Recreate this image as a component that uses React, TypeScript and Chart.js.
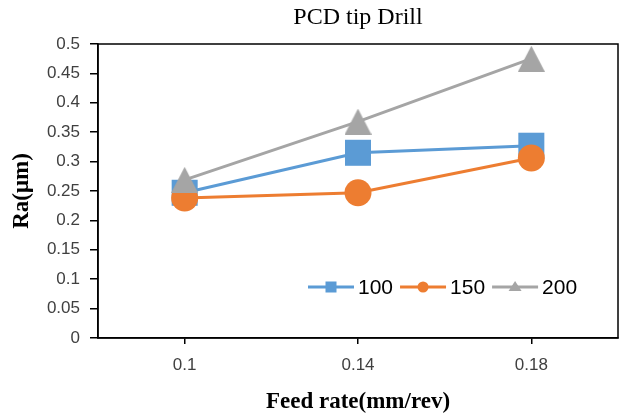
import React, { useEffect, useRef } from 'react';
import { Chart, registerables } from 'chart.js';

Chart.register(...registerables);

const categories = ['0.1', '0.14', '0.18'];
const seriesNames = ['100', '150', '200'];
const ra100 = [0.247, 0.315, 0.327];
const ra150 = [0.238, 0.247, 0.306];
const ra200 = [0.269, 0.368, 0.475];
const yMin = 0;
const yMax = 0.5;
const yStep = 0.05;
const titleText = 'PCD tip Drill';
const xTitle = 'Feed rate(mm/rev)';
const yTitle = 'Ra(μm)';

const BLUE = '#5B9BD5';
const ORANGE = '#ED7D31';
const GRAY = '#A5A5A5';

function makeTriangle(w: number, h: number, color: string) {
  const c = document.createElement('canvas');
  c.width = w;
  c.height = h;
  const ctx = c.getContext('2d')!;
  ctx.fillStyle = color;
  ctx.beginPath();
  ctx.moveTo(w / 2, 0);
  ctx.lineTo(w, h);
  ctx.lineTo(0, h);
  ctx.closePath();
  ctx.fill();
  return c;
}

export default function App() {
  const ref = useRef<HTMLCanvasElement | null>(null);

  useEffect(() => {
    document.body.style.margin = '0';
    const canvas = ref.current;
    if (!canvas) return;
    const tri = makeTriangle(27, 26, GRAY);

    const frame = {
      id: 'frame',
      beforeDatasetsDraw(chart: any) {
        const { ctx, chartArea } = chart;
        ctx.save();
        ctx.strokeStyle = '#000';
        ctx.lineWidth = 1.5;
        ctx.strokeRect(chartArea.left, chartArea.top, chartArea.right - chartArea.left, chartArea.bottom - chartArea.top);
        ctx.restore();
      },
    };

    const legend = {
      id: 'insideLegend',
      afterDraw(chart: any) {
        const { ctx, chartArea } = chart;
        const y = chartArea.bottom - 51;
        let x = chartArea.right - 310;
        ctx.save();
        ctx.font = '21px "Liberation Sans"';
        ctx.textBaseline = 'middle';
        ctx.textAlign = 'left';
        chart.data.datasets.forEach((ds: any, i: number) => {
          const color = ds.borderColor;
          ctx.strokeStyle = color;
          ctx.lineWidth = 3;
          ctx.beginPath();
          ctx.moveTo(x, y);
          ctx.lineTo(x + 46, y);
          ctx.stroke();
          const cx = x + 23;
          ctx.fillStyle = color;
          if (i === 0) {
            ctx.fillRect(cx - 5.5, y - 5.5, 11, 11);
          } else if (i === 1) {
            ctx.beginPath();
            ctx.arc(cx, y, 5.5, 0, Math.PI * 2);
            ctx.fill();
          } else {
            ctx.beginPath();
            ctx.moveTo(cx, y - 6);
            ctx.lineTo(cx + 6.5, y + 4);
            ctx.lineTo(cx - 6.5, y + 4);
            ctx.closePath();
            ctx.fill();
          }
          ctx.fillStyle = '#000';
          const label = ds.label;
          ctx.fillText(label, x + 50, y + 1);
          x = x + 50 + ctx.measureText(label).width + 7;
        });
        ctx.restore();
      },
    };

    const chart = new Chart(canvas, {
      type: 'line',
      data: {
        labels: categories,
        datasets: [
          {
            label: seriesNames[0],
            data: ra100,
            borderColor: BLUE,
            backgroundColor: BLUE,
            borderWidth: 3,
            pointStyle: 'rect',
            pointRadius: 18.4,
            pointBorderWidth: 0,
            clip: false,
            order: 3,
          },
          {
            label: seriesNames[1],
            data: ra150,
            borderColor: ORANGE,
            backgroundColor: ORANGE,
            borderWidth: 3,
            pointStyle: 'circle',
            pointRadius: 13.5,
            pointBorderWidth: 0,
            clip: false,
            order: 2,
          },
          {
            label: seriesNames[2],
            data: ra200,
            borderColor: GRAY,
            backgroundColor: GRAY,
            borderWidth: 3,
            pointStyle: tri as any,
            pointRadius: 13,
            pointBorderWidth: 0,
            clip: false,
            order: 1,
          },
        ],
      },
      options: {
        responsive: false,
        animation: false,
        devicePixelRatio: 1,
        layout: { autoPadding: false, padding: { left: 0, right: 3, top: 0, bottom: 0 } },
        elements: { line: { tension: 0 } },
        plugins: {
          legend: { display: false },
          tooltip: { enabled: false },
          title: {
            display: true,
            text: titleText,
            fullSize: false,
            color: '#000',
            font: { family: '"Liberation Serif"', size: 24, weight: 'normal', lineHeight: 1.2 },
            padding: { top: 3.6, bottom: 11.6 },
          },
        },
        scales: {
          x: {
            offset: true,
            grid: { drawOnChartArea: false, drawTicks: true, tickLength: 6, color: '#000', lineWidth: 1.5, offset: false },
            border: { display: true, color: '#000', width: 1.5 },
            ticks: { padding: 11, color: '#404040', font: { family: '"Liberation Sans"', size: 17 } },
            title: {
              display: true,
              text: xTitle,
              color: '#000',
              font: { family: '"Liberation Serif"', size: 23, weight: 'bold', lineHeight: 1 },
              padding: { top: 0, bottom: 0 },
            },
            afterFit: (s: any) => {
              s.height = 76;
            },
          },
          y: {
            min: yMin,
            max: yMax,
            grid: { drawOnChartArea: false, drawTicks: true, tickLength: 8, color: '#000', lineWidth: 1.5 },
            border: { display: true, color: '#000', width: 1.5 },
            ticks: {
              stepSize: yStep,
              padding: 10,
              color: '#404040',
              font: { family: '"Liberation Sans"', size: 17 },
              callback: (v: any) => String(Number(Number(v).toFixed(2))),
            },
            title: {
              display: true,
              text: yTitle,
              color: '#000',
              font: { family: '"Liberation Serif"', size: 23, weight: 'bold', lineHeight: 1 },
              padding: { top: 11, bottom: 0 },
            },
            afterFit: (s: any) => {
              s.width = 98;
            },
          },
        },
      },
      plugins: [frame, legend],
    });
    return () => chart.destroy();
  }, []);

  return (
    <div style={{ width: 621, height: 414, background: '#fff' }}>
      <canvas ref={ref} width={621} height={414} style={{ display: 'block' }} />
    </div>
  );
}
